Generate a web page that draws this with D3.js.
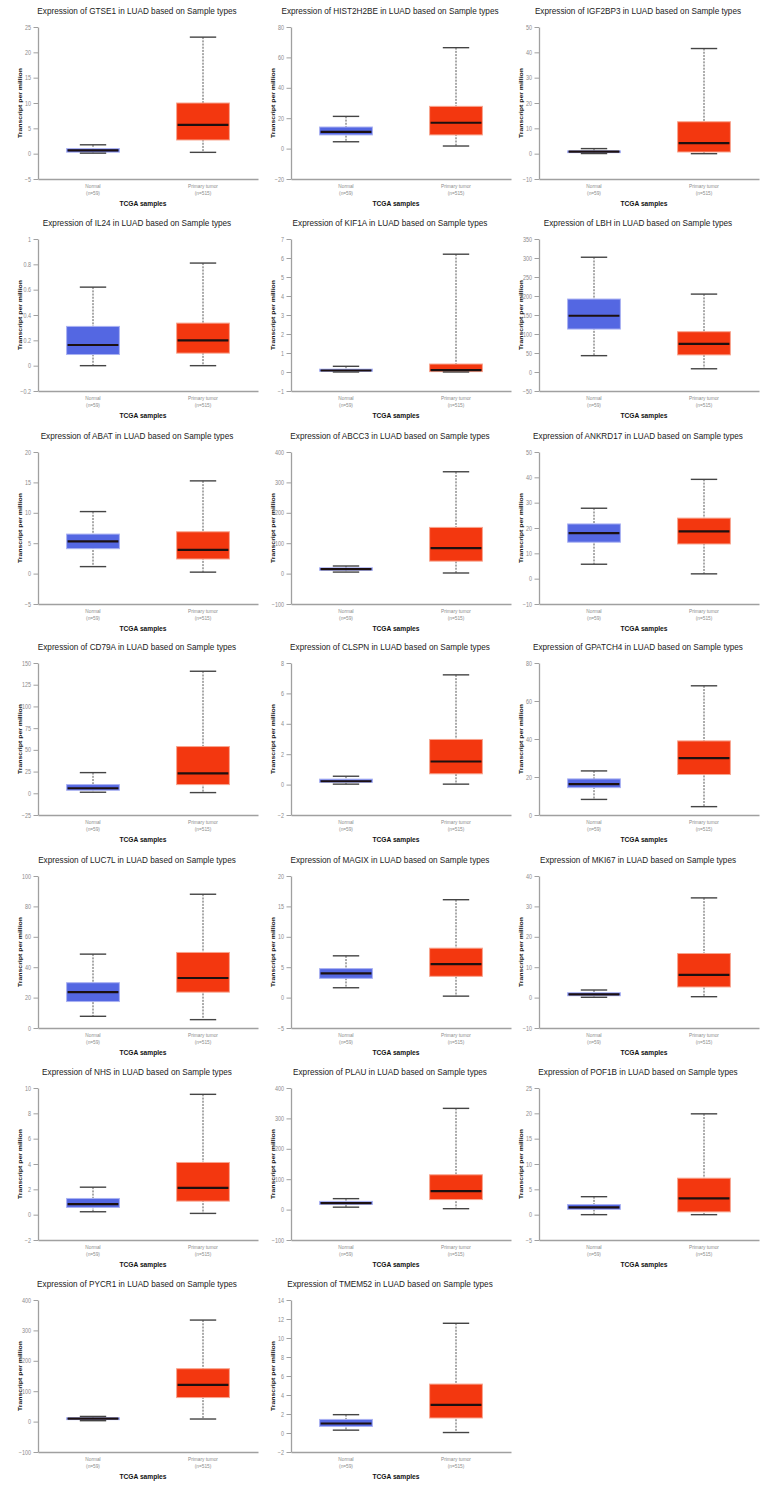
<!DOCTYPE html>
<html><head><meta charset="utf-8">
<script src="https://cdn.jsdelivr.net/npm/d3@7"></script>
<style>
html,body{margin:0;padding:0;background:#fff;}
svg{display:block;}
text{font-family:'Liberation Sans',Arial,sans-serif;}
</style>
</head><body>
<svg id="chart" width="767" height="1487"></svg>
<script>
const genes = ["GTSE1","HIST2H2BE","IGF2BP3","IL24","KIF1A","LBH","ABAT","ABCC3","ANKRD17","CD79A","CLSPN","GPATCH4","LUC7L","MAGIX","MKI67","NHS","PLAU","POF1B","PYCR1","TMEM52"];
const categories = ["Normal","Primary tumor"];
const sampleCounts = ["(n=59)","(n=515)"];
// [min, q1, median, q3, max]
const normalStats = [
  [0.1,0.3,0.65,1.0,1.75],
  [4.5,9.0,11.0,14.2,21.2],
  [0.05,0.4,0.8,1.1,2.0],
  [0,0.088,0.163,0.31,0.62],
  [0,0.04,0.08,0.15,0.3],
  [43,113,148,192,302],
  [1.15,4.1,5.3,6.5,10.2],
  [5,11,15,19,25],
  [5.7,14.4,18.0,21.6,27.8],
  [1.2,3.5,5.8,10,23.8],
  [0.03,0.15,0.22,0.36,0.55],
  [8.2,14.4,16.3,19,23.2],
  [7.7,17.4,23.6,29.8,48.6],
  [1.62,3.17,4.0,4.77,6.87],
  [0.1,0.62,1.06,1.6,2.5],
  [0.23,0.57,0.83,1.28,2.17],
  [8,17,21,27,36],
  [0,1.05,1.45,2.0,3.55],
  [3,6.5,10,12.5,17],
  [0.3,0.69,1.0,1.43,1.93]
];
const tumorStats = [
  [0.26,2.7,5.7,10.0,23.0],
  [1.7,9.0,17.0,27.8,66.4],
  [0,0.66,4.2,12.6,41.5],
  [0,0.099,0.2,0.336,0.81],
  [0,0.02,0.1,0.42,6.2],
  [8.5,45,74,106,205],
  [0.24,2.4,3.9,6.88,15.25],
  [2,41,84,152,335],
  [1.9,13.7,18.7,23.9,39.2],
  [0.8,10,23,53.8,140.5],
  [0.03,0.71,1.52,2.97,7.22],
  [4.4,21.3,29.9,39,68],
  [5.5,23.6,32.9,49.7,88],
  [0.24,3.5,5.5,8.13,16.1],
  [0.3,3.5,7.5,14.5,32.8],
  [0.1,1.07,2.12,4.12,9.5],
  [3,33,61,114.5,333],
  [0,0.55,3.2,7.2,19.9],
  [8.5,79,121,174,334],
  [0.05,1.58,2.96,5.15,11.55]
];
const yTicks = [
  [-5,0,5,10,15,20,25],
  [-20,0,20,40,60,80],
  [-10,0,10,20,30,40,50],
  [-0.2,0,0.2,0.4,0.6,0.8,1],
  [-1,0,1,2,3,4,5,6,7],
  [-50,0,50,100,150,200,250,300,350],
  [-5,0,5,10,15,20],
  [-100,0,100,200,300,400],
  [-10,0,10,20,30,40,50],
  [-25,0,25,50,75,100,125,150],
  [-2,0,2,4,6,8],
  [0,20,40,60,80],
  [0,20,40,60,80,100],
  [-5,0,5,10,15,20],
  [-10,0,10,20,30,40],
  [-2,0,2,4,6,8,10],
  [-100,0,100,200,300,400],
  [-5,0,5,10,15,20,25],
  [-100,0,100,200,300,400],
  [-2,0,2,4,6,8,10,12,14]
];

const colX = [0, 253, 501];
const rowY = [0, 212, 425, 636, 849, 1061, 1273];
const fills = ["#5467E2","#F3370F"];
const strokes = ["#AAB2F2","#F8A58F"];

// horizontally condense a text element, keeping glyph height
function condense(sel, factor) {
  sel.each(function() {
    const w = this.getComputedTextLength();
    if (w > 0) d3.select(this).attr("textLength", w * factor).attr("lengthAdjust", "spacingAndGlyphs");
  });
}

const svg = d3.select("#chart");
svg.append("rect").attr("width",767).attr("height",1487).attr("fill","#fff");

const axisLeft = 38, plotW = 220, plotTop = 27, plotBot = 179;

genes.forEach((g, i) => {
  const gx = colX[i % 3], gy = rowY[Math.floor(i / 3)];
  const p = svg.append("g").attr("transform", `translate(${gx},${gy})`);

  p.append("text")
    .attr("x", 137).attr("y", 14.3).attr("text-anchor","middle")
    .attr("font-size", 8.2).attr("fill","#222")
    .text(`Expression of ${g} in LUAD based on Sample types`);

  const ticks = yTicks[i];
  const y = d3.scaleLinear().domain([ticks[0], ticks[ticks.length-1]]).range([plotBot, plotTop]);
  const x = d3.scaleBand().domain(categories).range([0, plotW]).paddingInner(0.52).paddingOuter(0.26);

  const plot = p.append("g").attr("transform", `translate(${axisLeft},0)`);

  // y axis
  const ya = plot.append("g").call(d3.axisLeft(y).tickValues(ticks).tickSize(4.5).tickSizeOuter(0).tickPadding(2.5).tickFormat(d3.format("~g")));
  ya.select(".domain").attr("stroke","#a0a0a0").attr("stroke-width",1.3);
  ya.selectAll(".tick line").attr("stroke","#a0a0a0").attr("stroke-width",1);
  const tl = ya.selectAll(".tick text").attr("font-family","'Liberation Sans',Arial,sans-serif").attr("font-size",6.6).attr("fill","#8c8c8c");
  condense(tl, 0.82);

  // x axis
  const xa = plot.append("g").attr("transform",`translate(0,${plotBot})`)
    .call(d3.axisBottom(x).tickSize(0).tickFormat(""));
  xa.select(".domain").attr("stroke","#a0a0a0").attr("stroke-width",1.6);

  categories.forEach((c, k) => {
    const cx = x(c) + x.bandwidth()/2;
    const t1 = plot.append("text").attr("x", cx).attr("y", plotBot + 8.5)
      .attr("text-anchor","middle").attr("font-size",5.6).attr("fill","#8c8c8c").text(c);
    const t2 = plot.append("text").attr("x", cx).attr("y", plotBot + 15.5)
      .attr("text-anchor","middle").attr("font-size",5.6).attr("fill","#8c8c8c").text(sampleCounts[k]);
    condense(t1, 0.85); condense(t2, 0.85);
  });

  const xl = plot.append("text")
    .attr("x", plotW/2 - 5).attr("y", plotBot + 26.5).attr("text-anchor","middle")
    .attr("font-size",7.4).attr("font-weight","bold").attr("fill","#111").text("TCGA samples");
  condense(xl, 0.9);

  p.append("text")
    .attr("transform", `translate(21.5,${(plotTop+plotBot)/2}) rotate(-90)`)
    .attr("text-anchor","middle")
    .attr("font-size",6.2).attr("font-weight","bold").attr("fill","#111")
    .attr("textLength", 70).attr("lengthAdjust","spacingAndGlyphs")
    .text("Transcript per million");

  // boxes
  [normalStats[i], tumorStats[i]].forEach((s, k) => {
    const c = categories[k];
    const bx = x(c), bw = x.bandwidth(), cx = bx + bw/2;
    const [mn, q1, md, q3, mx] = s;
    const bg = plot.append("g");
    bg.append("line").attr("x1",cx).attr("x2",cx).attr("y1",y(mx)).attr("y2",y(mn))
      .attr("stroke","#444").attr("stroke-width",0.9).attr("stroke-dasharray","2,1.2");
    bg.append("rect").attr("x",bx).attr("width",bw)
      .attr("y",y(q3)).attr("height",Math.max(0.5, y(q1)-y(q3)))
      .attr("fill",fills[k]).attr("stroke",strokes[k]).attr("stroke-width",1);
    bg.append("line").attr("x1",bx+1).attr("x2",bx+bw-1).attr("y1",y(md)).attr("y2",y(md))
      .attr("stroke","#1c1010").attr("stroke-width",2.2);
    [mn, mx].forEach(v => {
      bg.append("line").attr("x1",cx-bw/4).attr("x2",cx+bw/4).attr("y1",y(v)).attr("y2",y(v))
        .attr("stroke","#444").attr("stroke-width",1.4);
    });
  });
});
</script>
</body></html>
